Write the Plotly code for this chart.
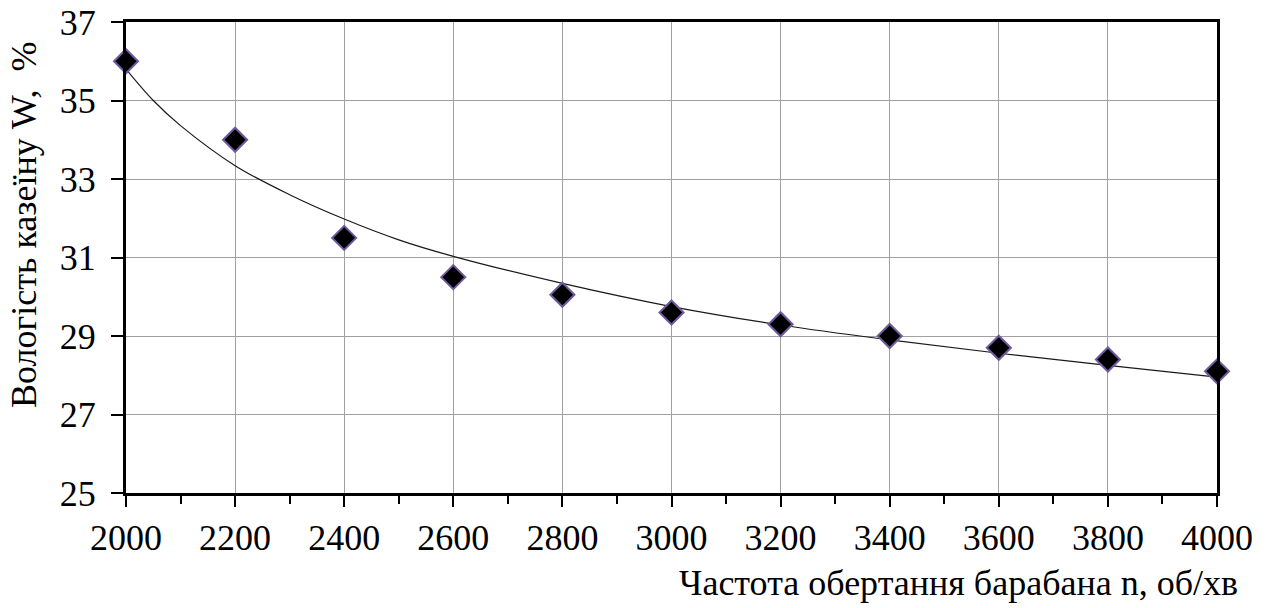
import plotly.graph_objects as go

# measured points
n_rpm = [2000, 2200, 2400, 2600, 2800, 3000, 3200, 3400, 3600, 3800, 4000]
moisture = [36.0, 34.0, 31.5, 30.5, 30.05, 29.6, 29.3, 29.0, 28.7, 28.4, 28.1]

# trend curve
trend_x = [2000, 2050, 2100, 2200, 2300, 2400, 2500, 2600, 2800, 3000, 3200, 3400, 3600, 3800, 4000]
trend_y = [35.8, 35.0, 34.36, 33.34, 32.6, 31.98, 31.45, 31.03, 30.34, 29.75, 29.28, 28.9, 28.56, 28.25, 27.95]

x_ticks = list(range(2000, 4001, 200))
y_ticks = [25, 27, 29, 31, 33, 35, 37]

x_title = "Частота обертання барабана n, об/хв"
y_title = "Вологість казеїну W,  %"

FONT = "serif"

fig = go.Figure()
fig.add_trace(go.Scatter(
    x=trend_x, y=trend_y, mode="lines",
    line=dict(color="#1a1a1a", width=1.2, shape="spline", smoothing=1.0),
    hoverinfo="skip", showlegend=False,
))
fig.add_trace(go.Scatter(
    x=n_rpm, y=moisture, mode="markers",
    marker=dict(symbol="diamond", size=18.5, color="black",
                line=dict(color="#6f5a9e", width=2)),
    showlegend=False, cliponaxis=False,
))

fig.update_layout(
    width=1277, height=608,
    margin=dict(l=118, r=68, t=14, b=123, autoexpand=False),
    paper_bgcolor="white", plot_bgcolor="white",
    font=dict(family=FONT, size=36, color="black"),
    xaxis=dict(
        range=[2000, 4000], tickvals=x_ticks, ticktext=[str(v) for v in x_ticks],
        automargin=False, ticklabeloverflow="allow",
        showgrid=True, gridcolor="#a0a0a0", gridwidth=1,
        showline=True, linecolor="black", linewidth=3, mirror=True,
        ticks="outside", ticklen=11, tickwidth=2, tickcolor="black",
        minor=dict(dtick=100, tick0=2000, ticks="outside", ticklen=8, tickwidth=2,
                   tickcolor="black", showgrid=False),
        zeroline=False, tickfont=dict(family=FONT, size=36),
    ),
    yaxis=dict(
        range=[25, 37], tickvals=y_ticks, ticktext=[str(v) for v in y_ticks],
        automargin=False, ticklabeloverflow="allow", ticklabelstandoff=8,
        showgrid=True, gridcolor="#a0a0a0", gridwidth=1,
        showline=True, linecolor="black", linewidth=3, mirror=True,
        ticks="outside", ticklen=12, tickwidth=2, tickcolor="black",
        zeroline=False, tickfont=dict(family=FONT, size=36),
    ),
    annotations=[
        dict(text=x_title, xref="paper", yref="paper", x=1.021, y=-0.191,
             xanchor="right", yanchor="middle", showarrow=False,
             font=dict(family=FONT, size=36)),
        dict(text=y_title, xref="paper", yref="paper", x=-0.0935, y=0.569,
             xanchor="center", yanchor="middle", textangle=-90, showarrow=False,
             font=dict(family=FONT, size=36)),
    ],
)

fig.write_html("out.html")
